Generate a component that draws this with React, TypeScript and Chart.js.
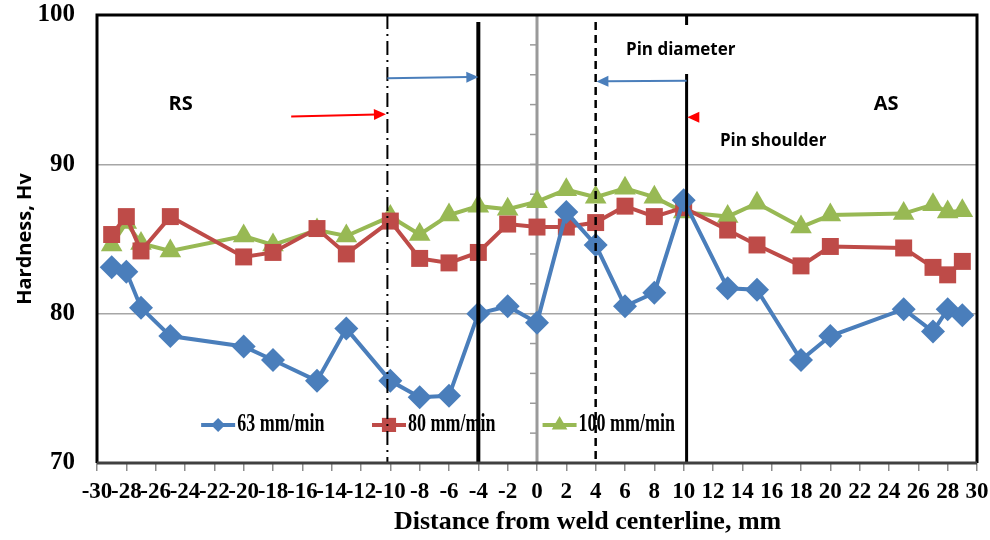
import React, { useEffect, useRef } from 'react';
import { Chart, registerables } from 'chart.js';

Chart.register(...registerables);

// ---- Data ----
const distanceMm = [-29, -28, -27, -25, -20, -18, -15, -13, -10, -8, -6, -4, -2, 0, 2, 4, 6, 8, 10, 13, 15, 18, 20, 25, 27, 28, 29];
const hardness63 = [83.1, 82.8, 80.4, 78.5, 77.8, 76.9, 75.5, 79.0, 75.5, 74.4, 74.5, 80.0, 80.5, 79.4, 86.8, 84.6, 80.5, 81.4, 87.6, 81.7, 81.6, 76.9, 78.5, 80.3, 78.8, 80.3, 79.9];
const hardness80 = [85.3, 86.5, 84.2, 86.5, 83.8, 84.1, 85.7, 84.0, 86.2, 83.7, 83.4, 84.1, 86.0, 85.8, 85.8, 86.1, 87.2, 86.5, 87.1, 85.6, 84.6, 83.2, 84.5, 84.4, 83.1, 82.6, 83.5];
const hardness100 = [84.6, 86.1, 84.7, 84.2, 85.2, 84.6, 85.6, 85.2, 86.5, 85.3, 86.6, 87.2, 87.0, 87.5, 88.3, 87.8, 88.4, 87.8, 86.8, 86.5, 87.4, 85.8, 86.6, 86.7, 87.3, 86.8, 86.9];
const seriesLabels = ['63 mm/min', '80 mm/min', '100 mm/min'];
const seriesColors = ['#4a7ebb', '#be4b48', '#98b954'];
const seriesMarkers = ['rectRot', 'rect', 'triangle'];

const xMin = -30;
const xMax = 30;
const xStep = 2;
const yMin = 70;
const yMax = 100;
const yStep = 10;
const yGridValues = [80, 90];

const xTitle = 'Distance from weld centerline, mm';
const yTitle = 'Hardness, Hv';

// Reference lines (x in mm)
const dashDotX = -10.2;
const leftSolidX = -4;
const centerX = 0;
const dashedX = 4;
const rightSolidX = 10.2;

// Annotations (data coordinates)
const annotationTexts = [
  { text: 'RS', x: -24.3, y: 94.0, size: 20 },
  { text: 'AS', x: 23.8, y: 94.0, size: 20 },
  { text: 'Pin diameter', x: 9.8, y: 97.65, size: 17 },
  { text: 'Pin shoulder', x: 16.1, y: 91.55, size: 17 },
];
const blueArrows = [
  { x1: -10.2, y1: 95.77, x2: -4, y2: 95.85 },
  { x1: 10.2, y1: 95.6, x2: 4.05, y2: 95.55 },
];
const redArrow = { x1: -16.76, y1: 93.2, x2: -10.3, y2: 93.35 };
const redHead = { x1: 11.0, y1: 93.15, x2: 10.25, y2: 93.15 };
const legendStartX = [-22.9, -11.25, 0.38];
const legendY = 72.55;
const xTitleCenter = 3.45;

const serif = '"Liberation Serif", "Times New Roman", serif';
const sans = '"Open Sans", "Noto Sans", sans-serif';

function drawMarker(ctx: CanvasRenderingContext2D, style: string, x: number, y: number, r: number) {
  ctx.beginPath();
  if (style === 'rectRot') {
    ctx.moveTo(x, y - r);
    ctx.lineTo(x + r, y);
    ctx.lineTo(x, y + r);
    ctx.lineTo(x - r, y);
  } else if (style === 'rect') {
    const h = r * Math.SQRT1_2;
    ctx.rect(x - h, y - h, 2 * h, 2 * h);
  } else {
    ctx.moveTo(x, y - r);
    ctx.lineTo(x + r * 0.866, y + r / 2);
    ctx.lineTo(x - r * 0.866, y + r / 2);
  }
  ctx.closePath();
  ctx.fill();
}

function arrow(ctx: CanvasRenderingContext2D, x1: number, y1: number, x2: number, y2: number, color: string, drawShaft = true) {
  const ang = Math.atan2(y2 - y1, x2 - x1);
  const len = 12;
  const half = 5.5;
  ctx.save();
  ctx.strokeStyle = color;
  ctx.fillStyle = color;
  ctx.lineWidth = 2;
  if (drawShaft) {
    ctx.beginPath();
    ctx.moveTo(x1, y1);
    ctx.lineTo(x2 - Math.cos(ang) * len * 0.8, y2 - Math.sin(ang) * len * 0.8);
    ctx.stroke();
  }
  ctx.beginPath();
  ctx.moveTo(x2, y2);
  ctx.lineTo(x2 - Math.cos(ang) * len - Math.sin(ang) * half, y2 - Math.sin(ang) * len + Math.cos(ang) * half);
  ctx.lineTo(x2 - Math.cos(ang) * len + Math.sin(ang) * half, y2 - Math.sin(ang) * len - Math.cos(ang) * half);
  ctx.closePath();
  ctx.fill();
  ctx.restore();
}

const overlay = {
  id: 'overlay',
  beforeDatasetsDraw(chart: any) {
    const { ctx, chartArea: a, scales } = chart;
    const x = scales.x;
    const y = scales.y;
    const cx = x.getPixelForValue(centerX);
    ctx.save();
    ctx.strokeStyle = '#9a9a9a';
    ctx.lineWidth = 3;
    ctx.beginPath();
    ctx.moveTo(cx, a.top);
    ctx.lineTo(cx, a.bottom);
    ctx.stroke();
    ctx.lineWidth = 1.5;
    for (let v = yMin; v <= yMax; v += 2) {
      const py = y.getPixelForValue(v);
      ctx.beginPath();
      ctx.moveTo(cx - 7, py);
      ctx.lineTo(cx, py);
      ctx.stroke();
    }
    ctx.restore();
  },
  afterDatasetsDraw(chart: any) {
    const { ctx, chartArea: a, scales } = chart;
    const x = scales.x;
    const y = scales.y;
    const px = (v: number) => x.getPixelForValue(v);
    const py = (v: number) => y.getPixelForValue(v);

    // legend
    ctx.save();
    const ly = py(legendY);
    seriesLabels.forEach((label, i) => {
      const lx = px(legendStartX[i]);
      ctx.strokeStyle = seriesColors[i];
      ctx.fillStyle = seriesColors[i];
      ctx.lineWidth = 4;
      ctx.beginPath();
      ctx.moveTo(lx, ly);
      ctx.lineTo(lx + 34, ly);
      ctx.stroke();
      drawMarker(ctx, seriesMarkers[i], lx + 17, ly, i === 0 ? 7 : i === 1 ? 10 : 9);
      ctx.save();
      ctx.fillStyle = '#000';
      ctx.font = `bold 18px ${serif}`;
      ctx.textBaseline = 'middle';
      ctx.textAlign = 'left';
      ctx.translate(lx + 36, ly);
      ctx.scale(1, 1.35);
      ctx.fillText(label, 0, 0);
      ctx.restore();
    });
    ctx.restore();

    // vertical reference lines
    ctx.save();
    ctx.strokeStyle = '#000';
    // dash-dot
    ctx.lineWidth = 2;
    ctx.setLineDash([14, 5, 2, 5]);
    ctx.beginPath();
    ctx.moveTo(px(dashDotX), a.top);
    ctx.lineTo(px(dashDotX), a.bottom);
    ctx.stroke();
    // dashed
    ctx.lineWidth = 2.5;
    ctx.setLineDash([8, 5]);
    ctx.beginPath();
    ctx.moveTo(px(dashedX), a.top + 7);
    ctx.lineTo(px(dashedX), a.bottom);
    ctx.stroke();
    ctx.setLineDash([]);
    // solid left
    ctx.lineWidth = 4;
    ctx.beginPath();
    ctx.moveTo(px(leftSolidX), a.top + 7);
    ctx.lineTo(px(leftSolidX), a.bottom);
    ctx.stroke();
    // solid right (with gap)
    ctx.lineWidth = 3;
    ctx.beginPath();
    ctx.moveTo(px(rightSolidX), a.top);
    ctx.lineTo(px(rightSolidX), a.top + 10);
    ctx.moveTo(px(rightSolidX), py(96.05));
    ctx.lineTo(px(rightSolidX), a.bottom);
    ctx.stroke();
    ctx.restore();

    // arrows
    blueArrows.forEach((ar) => arrow(ctx, px(ar.x1), py(ar.y1), px(ar.x2), py(ar.y2), '#4a7ebb'));
    arrow(ctx, px(redArrow.x1), py(redArrow.y1), px(redArrow.x2), py(redArrow.y2), '#ff0000');
    arrow(ctx, px(redHead.x1), py(redHead.y1), px(redHead.x2), py(redHead.y2), '#ff0000', false);

    // texts
    ctx.save();
    ctx.fillStyle = '#000';
    ctx.textAlign = 'center';
    ctx.textBaseline = 'middle';
    annotationTexts.forEach((t) => {
      ctx.font = `bold ${t.size}px ${sans}`;
      ctx.fillText(t.text, px(t.x), py(t.y));
    });
    // x title
    ctx.font = `bold 26px ${serif}`;
    ctx.fillText(xTitle, px(xTitleCenter), 522);
    ctx.restore();

    // frame
    ctx.save();
    ctx.lineWidth = 3;
    ctx.strokeStyle = '#000';
    ctx.beginPath();
    ctx.moveTo(a.left, a.bottom);
    ctx.lineTo(a.left, a.top);
    ctx.lineTo(a.right, a.top);
    ctx.lineTo(a.right, a.bottom);
    ctx.stroke();
    ctx.strokeStyle = '#404040';
    ctx.beginPath();
    ctx.moveTo(a.left, a.bottom);
    ctx.lineTo(a.right, a.bottom);
    ctx.stroke();
    ctx.restore();
  },
};

export default function App() {
  const ref = useRef<HTMLCanvasElement>(null);
  useEffect(() => {
    const canvas = ref.current;
    if (!canvas) return;
    const series = [hardness63, hardness80, hardness100];
    const radii = [12, 12, 12.5];
    const chart = new Chart(canvas, {
      type: 'line',
      data: {
        datasets: series.map((vals, i) => ({
          label: seriesLabels[i],
          data: distanceMm.map((d, j) => ({ x: d, y: vals[j] })),
          borderColor: seriesColors[i],
          backgroundColor: seriesColors[i],
          pointBackgroundColor: seriesColors[i],
          pointBorderColor: seriesColors[i],
          pointBorderWidth: 0,
          pointStyle: seriesMarkers[i] as any,
          pointRadius: radii[i],
          borderWidth: 4,
          tension: 0,
        })),
      },
      options: {
        animation: false,
        responsive: false,
        devicePixelRatio: 1,
        layout: { padding: { top: 15, right: 13, left: 0, bottom: 0 } },
        plugins: { legend: { display: false }, tooltip: { enabled: false } },
        scales: {
          x: {
            type: 'linear',
            min: xMin,
            max: xMax,
            afterFit: (s: any) => {
              s.height = 77;
              s.paddingLeft = 0;
              s.paddingRight = 0;
            },
            ticks: {
              stepSize: xStep,
              autoSkip: false,
              maxRotation: 0,
              minRotation: 0,
              color: '#000',
              padding: 7,
              font: { family: serif, weight: 'bold', size: 23 },
              callback: (v: any) => String(v),
            },
            grid: { drawOnChartArea: false, drawTicks: true, tickLength: 8, color: '#8c8c8c', lineWidth: 1.5 },
            border: { display: false },
          },
          y: {
            min: yMin,
            max: yMax,
            afterFit: (s: any) => {
              s.width = 97;
              s.paddingTop = 0;
              s.paddingBottom = 0;
            },
            ticks: {
              stepSize: yStep,
              color: '#000',
              padding: 22,
              font: { family: serif, weight: 'bold', size: 25 },
            },
            grid: {
              drawTicks: false,
              lineWidth: 1.5,
              color: (c: any) => (yGridValues.includes(c.tick?.value) ? '#a6a6a6' : 'rgba(0,0,0,0)'),
            },
            border: { display: false },
            title: {
              display: true,
              text: yTitle,
              color: '#000',
              font: { family: sans, weight: 'bold', size: 20 },
              padding: { top: 13, bottom: 0 },
            },
          },
        },
      },
      plugins: [overlay],
    });
    return () => chart.destroy();
  }, []);
  return (
    <div style={{ position: 'absolute', left: 0, top: 0, width: 990, height: 540, background: '#fff' }}>
      <canvas ref={ref} width={990} height={540} style={{ display: 'block' }} />
    </div>
  );
}
